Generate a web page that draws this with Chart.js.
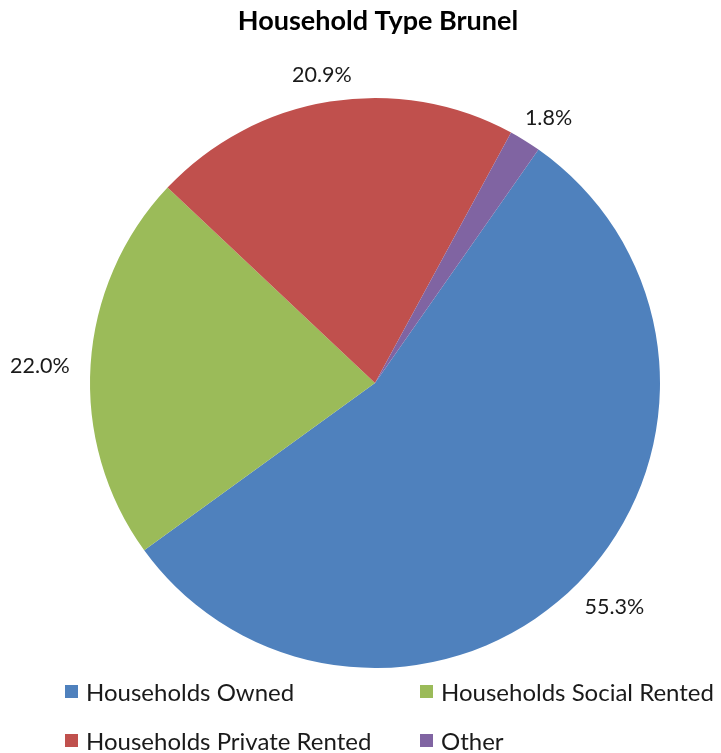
<!DOCTYPE html>
<html>
<head>
<meta charset="utf-8">
<script src="https://cdn.jsdelivr.net/npm/chart.js@4/dist/chart.umd.min.js"></script>
<style>
  html, body { margin: 0; padding: 0; background: #fff; }
  #wrap { position: relative; width: 721px; height: 753px; }
  #legend { position: absolute; left: 0; top: 0; width: 721px; height: 753px; pointer-events: none; font-family: Lato, "Open Sans", sans-serif; font-size: 24px; color: #1a1a1a; }
  #legend .item { position: absolute; display: flex; align-items: center; white-space: nowrap; }
  #legend .box { width: 13px; height: 13px; margin-right: 8px; }
</style>
</head>
<body>
<div id="wrap">
  <canvas id="householdChart" width="721" height="753"></canvas>
  <div id="legend"></div>
</div>
<script>
const labels = ["Households Owned", "Households Social Rented", "Households Private Rented", "Other"]
const shares = [55.3, 22.0, 20.9, 1.8]
const colors = ["#4F81BD", "#9BBB59", "#C0504D", "#8064A2"]
const chartTitle = "Household Type Brunel"

// legend cells: [left, centre y]
const legendSlots = [[65, 691], [420, 691], [65, 740], [420, 740]]

const outsideLabels = {
  id: "outsideLabels",
  afterDraw(chart) {
    const ctx = chart.ctx
    ctx.save()
    ctx.font = "bold 27px Lato, 'Open Sans', sans-serif"
    ctx.fillStyle = "#000"
    ctx.textAlign = "center"
    ctx.textBaseline = "middle"
    ctx.fillText(chartTitle, 378, 21)

    ctx.font = "21.5px Lato, 'Open Sans', sans-serif"
    ctx.fillStyle = "#1a1a1a"
    const meta = chart.getDatasetMeta(0)
    meta.data.forEach((arc, i) => {
      const mid = (arc.startAngle + arc.endAngle) / 2
      const r = arc.outerRadius + 21
      const text = shares[i].toFixed(1) + "%"
      const w = ctx.measureText(text).width
      const cx = arc.x + Math.cos(mid) * r + Math.cos(mid) * w / 2
      const cy = arc.y + Math.sin(mid) * r + Math.sin(mid) * 9 + 3
      ctx.fillText(text, cx, cy)
    })
    ctx.restore()
  }
}

const chart = new Chart(document.getElementById("householdChart"), {
  type: "pie",
  data: {
    labels: labels,
    datasets: [
      {
        data: shares,
        backgroundColor: colors,
        borderWidth: 0
      }
    ]
  },
  options: {
    responsive: false,
    animation: false,
    rotation: 35,
    layout: { padding: { left: 90, right: 61, top: 98, bottom: 85 } },
    plugins: {
      legend: { display: false },
      title: { display: false },
      tooltip: { enabled: false }
    }
  },
  plugins: [outsideLabels]
})

const legendEl = document.getElementById("legend")
labels.forEach((label, i) => {
  const item = document.createElement("div")
  item.className = "item"
  item.style.left = legendSlots[i][0] + "px"
  item.style.top = (legendSlots[i][1] - 14) + "px"
  item.style.height = "28px"
  const box = document.createElement("span")
  box.className = "box"
  box.style.background = colors[i]
  const txt = document.createElement("span")
  txt.textContent = label
  item.appendChild(box)
  item.appendChild(txt)
  legendEl.appendChild(item)
})
</script>
</body>
</html>
